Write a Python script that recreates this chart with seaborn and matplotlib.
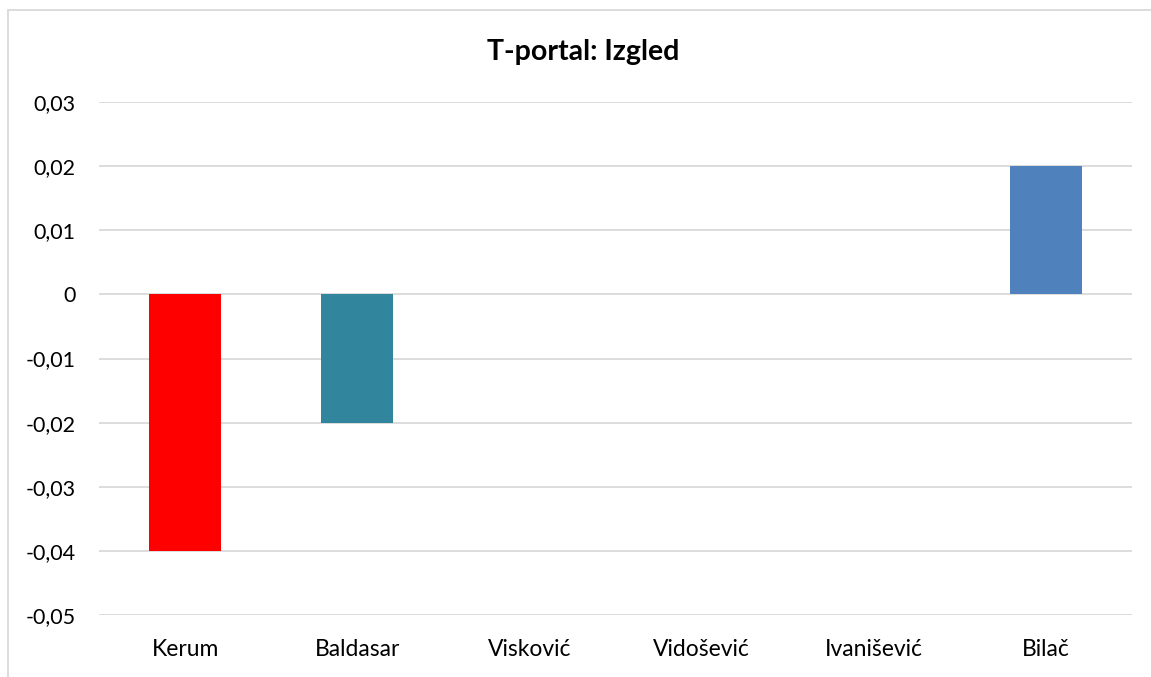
import matplotlib
matplotlib.use("Agg")
import matplotlib.pyplot as plt
from matplotlib.patches import Rectangle
import seaborn as sns
import pandas as pd

# Chart data
candidates = ["Kerum", "Baldasar", "Visković", "Vidošević", "Ivanišević", "Bilač"]
scores = [-0.04, -0.02, 0.0, 0.0, 0.0, 0.02]
bar_colors = ["#FF0000", "#31859C", "#4F81BD", "#4F81BD", "#4F81BD", "#4F81BD"]
y_ticks = [-0.05, -0.04, -0.03, -0.02, -0.01, 0.0, 0.01, 0.02, 0.03]

sns.set_theme(style="white")
plt.rcParams["font.family"] = ["Lato", "DejaVu Sans"]

df = pd.DataFrame({"kandidat": candidates, "vrijednost": scores})

W, H = 1151, 677
fig = plt.figure(figsize=(W / 100, H / 100), dpi=100)
fig.patch.set_facecolor("white")

# outer chart frame
fig.patches.append(Rectangle((8 / W, -0.1), 1.2, 1 - 10 / H + 0.1,
                             transform=fig.transFigure, fill=False,
                             edgecolor="#D9D9D9", linewidth=1.3))

ax = fig.add_axes([99 / W, 1 - 615 / H, (1132 - 99) / W, (615 - 102) / H])
sns.barplot(data=df, x="kandidat", y="vrijednost", hue="kandidat",
            palette=dict(zip(candidates, bar_colors)), dodge=False,
            saturation=1, width=0.42, linewidth=0, legend=False,
            ax=ax, zorder=3)

ax.set_ylim(-0.05, 0.03)
ax.set_xlim(-0.5, len(candidates) - 0.5)
ax.set_yticks(y_ticks)
ax.set_yticklabels(["0" if v == 0 else f"{v:.2f}".replace(".", ",") for v in y_ticks])
ax.grid(axis="y", color="#D9D9D9", linewidth=1.3, zorder=0)
ax.set_axisbelow(True)
for s in ax.spines.values():
    s.set_visible(False)
ax.set_xlabel("")
ax.set_ylabel("")
ax.tick_params(axis="y", length=0, pad=17, labelsize=15.5, labelcolor="#000000")
ax.tick_params(axis="x", length=0, pad=17, labelsize=16.5, labelcolor="#000000")

fig.text(583 / W, 1 - 52 / H, "T-portal: Izgled", ha="center",
         va="center", fontsize=20.5, fontweight="bold", color="#000000")

fig.savefig("out.png", dpi=100, facecolor="white")
